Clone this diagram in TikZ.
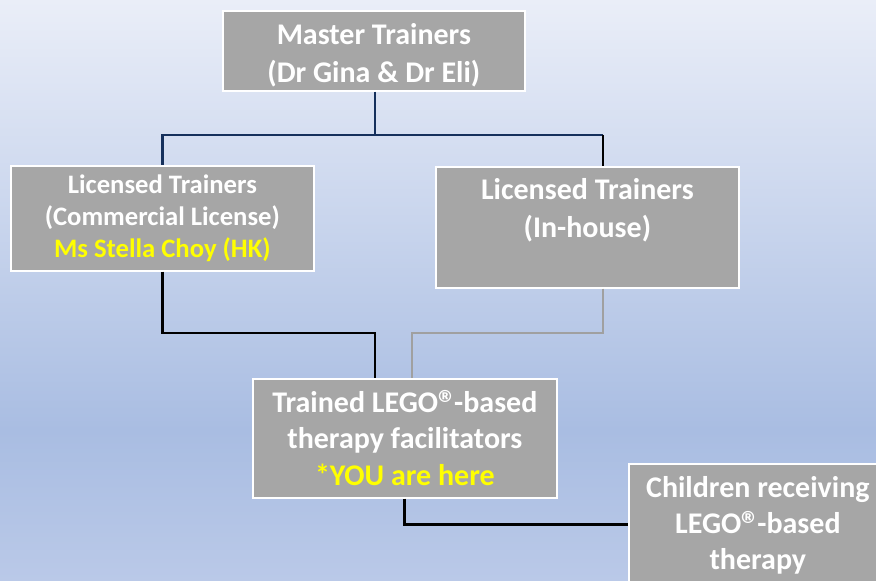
\documentclass[tikz,border=0pt]{standalone}
\usepackage{fontspec}
\setmainfont{Carlito}
\usetikzlibrary{calc}

\definecolor{boxgray}{HTML}{A6A6A6}
\definecolor{navyline}{HTML}{15305C}
\definecolor{hilite}{HTML}{FFFF00}
\definecolor{greyline}{HTML}{A0A0A0}
\definecolor{bgtop}{HTML}{EAEEF8}
\definecolor{bgmid}{HTML}{A9BDE2}
\definecolor{bgbot}{HTML}{BAC9E8}

% sky-like backdrop: light at the top, deepest blue a quarter up from the bottom
\pgfdeclareverticalshading{skybg}{100bp}{%
  color(0bp)=(bgbot); color(25bp)=(bgbot); color(38bp)=(bgmid);
  color(75bp)=(bgtop); color(100bp)=(bgtop)}

% a larger registered-trademark sign, top level with the capitals,
% sitting close to the following hyphen
\newcommand\regsign{\raisebox{-3pt}[13pt][0pt]{\fontsize{28pt}{27pt}\selectfont ®}\kern-2.2pt}

\begin{document}
\begin{tikzpicture}[x=0.75pt, y=-0.75pt,
  box/.style={draw=white, line width=1.3pt, fill=boxgray, text=white,
    align=center, inner sep=0pt, anchor=north west},
  bigtext/.style={font=\fontsize{22.5pt}{28.5pt}\selectfont\bfseries},
  smalltext/.style={font=\fontsize{20pt}{24pt}\selectfont\bfseries},
  link/.style={line width=2.2pt},
  navylink/.style={link, draw=navyline},
  blacklink/.style={link, draw=black},
  greylink/.style={line width=1.8pt, draw=greyline}]

\useasboundingbox (0,0) rectangle (876,581);
\clip (0,0) rectangle (876,581);
\shade[shading=skybg] (0,0) rectangle (876,581);

% boxes
\node[box, bigtext, minimum width=302*0.75pt, minimum height=80*0.75pt]
  (master) at (222,10) {\rule{0pt}{22pt}Master Trainers\\(Dr Gina \& Dr Eli)};
\node[box, smalltext, minimum width=303*0.75pt, minimum height=105*0.75pt]
  (lic1) at (10,165) {Licensed Trainers\\(Commercial License)\\\textcolor{hilite}{Ms Stella Choy (HK)}};
\node[box, bigtext, minimum width=303*0.75pt, minimum height=121*0.75pt]
  (lic2) at (435,166) {Licensed Trainers\\(In-house)\\~};
\node[box, bigtext, font=\fontsize{22.5pt}{27.5pt}\selectfont\bfseries,
  minimum width=304*0.75pt, minimum height=119*0.75pt]
  (fac) at (252,378) {Trained LEGO\regsign-based\\therapy facilitators\\\textcolor{hilite}{*YOU are here}};
\node[box, bigtext, font=\fontsize{22.5pt}{27pt}\selectfont\bfseries,
  minimum width=258*0.75pt, minimum height=122*0.75pt]
  (kids) at (628,463) {Children receiving\\LEGO\regsign-based\\therapy};

% junction points of the tree
\coordinate (hub) at (375,135);
\coordinate (dropR) at (603,135);
\coordinate (midL) at (375,333);
\coordinate (midR) at (412,333);

% connectors
\draw[navylink] (master.south -| hub) -- (hub);
\draw[navylink] (hub) -| (lic1.north);
\draw[navylink] (hub) -- (dropR);
\draw[blacklink] (dropR) -- (dropR |- lic2.north);
\draw[blacklink] (lic1.south) |- (midL) -- (midL |- fac.north);
\draw[greylink] (lic2.south -| dropR) |- (midR) -- (midR |- fac.north);
\draw[blacklink] (fac.south) |- (kids.west);
\end{tikzpicture}
\end{document}
